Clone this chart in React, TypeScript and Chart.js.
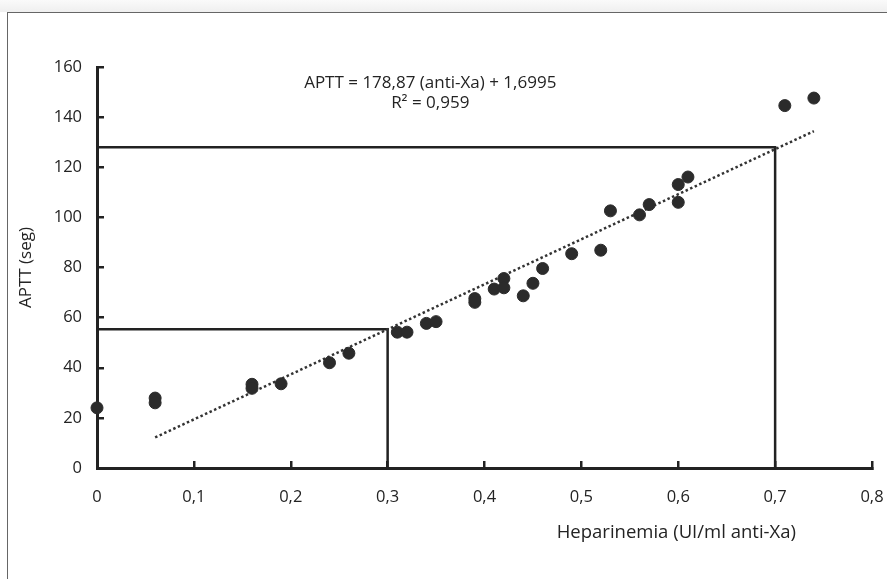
import React, { useEffect, useRef } from "react";
import { Chart, registerables } from "chart.js";

Chart.register(...registerables);

// Scatter data: heparinemia (UI/ml anti-Xa) vs APTT (s)
const heparinemia = [
  0, 0.06, 0.06, 0.16, 0.16, 0.19, 0.24, 0.26, 0.31, 0.32, 0.34, 0.35, 0.39, 0.39,
  0.41, 0.42, 0.42, 0.44, 0.45, 0.46, 0.49, 0.52, 0.53, 0.56, 0.57, 0.6, 0.6, 0.61,
  0.71, 0.74,
];
const aptt = [
  24, 27.9, 26, 33.4, 31.8, 33.6, 42, 45.8, 54.2, 54.2, 57.7, 58.4, 67.6, 66.1,
  71.4, 75.6, 71.9, 68.7, 73.7, 79.6, 85.5, 86.9, 102.6, 101, 105.1, 113.1, 106, 116.1,
  144.6, 147.6,
];

// Trend line end points (as drawn)
const trendX = [0.06, 0.74];
const trendY = [12.2, 134.4];

// Reading guides
const guideLowX = [0, 0.3, 0.3];
const guideLowY = [55.4, 55.4, 0];
const guideHighX = [0, 0.7, 0.7];
const guideHighY = [128, 128, 0];

const equationText = "APTT = 178,87 (anti-Xa) + 1,6995";
const r2Text = "R\u00B2 = 0,959";
const xTitle = "Heparinemia (UI/ml anti-Xa)";
const yTitle = "APTT (seg)";

const FONT = "'Open Sans', 'Noto Sans', sans-serif";
const INK = "#232323";

const zip = (xs: number[], ys: number[]) => xs.map((x, i) => ({ x, y: ys[i] }));

const textPlugin = {
  id: "textPlugin",
  afterDraw(chart: any) {
    const { ctx, scales, chartArea } = chart;
    ctx.save();
    ctx.fillStyle = INK;
    ctx.font = `17px ${FONT}`;
    ctx.textAlign = "center";
    ctx.textBaseline = "middle";
    const ex = scales.x.getPixelForValue(0.344);
    ctx.fillText(equationText, ex, scales.y.getPixelForValue(153.7));
    ctx.fillText(r2Text, ex, scales.y.getPixelForValue(145.6));
    ctx.font = `18.5px ${FONT}`;
    ctx.fillText(xTitle, scales.x.getPixelForValue(0.598), chartArea.bottom + 65);
    ctx.restore();
  },
};

export default function App() {
  const ref = useRef<HTMLCanvasElement | null>(null);

  useEffect(() => {
    if (!ref.current) return;
    const chart = new Chart(ref.current, {
      type: "scatter",
      data: {
        datasets: [
          {
            type: "scatter",
            data: zip(heparinemia, aptt),
            backgroundColor: "#2b2b2b",
            borderColor: "#2b2b2b",
            pointRadius: 6,
            pointHoverRadius: 6,
            clip: false as any,
            order: 0,
          },
          {
            type: "line",
            data: zip(trendX, trendY),
            borderColor: "#333",
            borderWidth: 2.5,
            borderDash: [2.5, 2.5],
            pointRadius: 0,
            fill: false,
            order: 1,
          },
          {
            type: "line",
            data: zip(guideLowX, guideLowY),
            borderColor: "#222",
            borderWidth: 2.5,
            pointRadius: 0,
            fill: false,
            tension: 0,
            order: 2,
          },
          {
            type: "line",
            data: zip(guideHighX, guideHighY),
            borderColor: "#222",
            borderWidth: 2.5,
            pointRadius: 0,
            fill: false,
            tension: 0,
            order: 2,
          },
        ] as any,
      },
      options: {
        responsive: false,
        animation: false,
        layout: { padding: { left: 0, right: 15, top: 67, bottom: 0 } },
        plugins: {
          legend: { display: false },
          tooltip: { enabled: false },
        },
        scales: {
          x: {
            type: "linear",
            min: 0,
            max: 0.8,
            afterFit: (s: any) => {
              s.height = 111;
              s.paddingLeft = 0;
              s.paddingRight = 0;
            },
            ticks: {
              stepSize: 0.1,
              color: INK,
              padding: 26,
              font: { family: FONT, size: 16.5 },
              callback: (v: any) => (Number(v) === 0 ? "0" : Number(v).toFixed(1).replace(".", ",")),
            },
            grid: {
              drawOnChartArea: false,
              drawTicks: true,
              tickLength: -7,
              color: "#222",
              lineWidth: 2.5,
            },
            border: { display: true, color: "#222", width: 3 },
          },
          y: {
            type: "linear",
            min: 0,
            max: 160,
            afterFit: (s: any) => {
              s.width = 97;
              s.paddingTop = 0;
              s.paddingBottom = 0;
            },
            ticks: {
              stepSize: 20,
              color: INK,
              padding: 22,
              font: { family: FONT, size: 16.5 },
            },
            grid: {
              drawOnChartArea: false,
              drawTicks: true,
              tickLength: -7,
              color: "#222",
              lineWidth: 2.5,
            },
            border: { display: true, color: "#222", width: 3 },
            title: {
              display: true,
              text: yTitle,
              color: INK,
              font: { family: FONT, size: 17 },
              padding: { top: 16, bottom: 0 },
            },
          },
        },
      },
      plugins: [textPlugin],
    });
    return () => chart.destroy();
  }, []);

  return (
    <div style={{ position: "absolute", left: 0, top: 0, width: 887, height: 579, background: "#fff", overflow: "hidden" }}>
      <div
        style={{
          position: "absolute",
          left: 0,
          top: 0,
          width: 887,
          height: 12,
          background: "linear-gradient(#fafafa, #efefef)",
        }}
      />
      <div
        style={{
          position: "absolute",
          left: 7,
          top: 12,
          width: 900,
          height: 600,
          borderLeft: "1.5px solid #666",
          borderTop: "1.5px solid #666",
        }}
      />
      <canvas ref={ref} width={887} height={579} style={{ position: "absolute", left: 0, top: 0 }} />
    </div>
  );
}
